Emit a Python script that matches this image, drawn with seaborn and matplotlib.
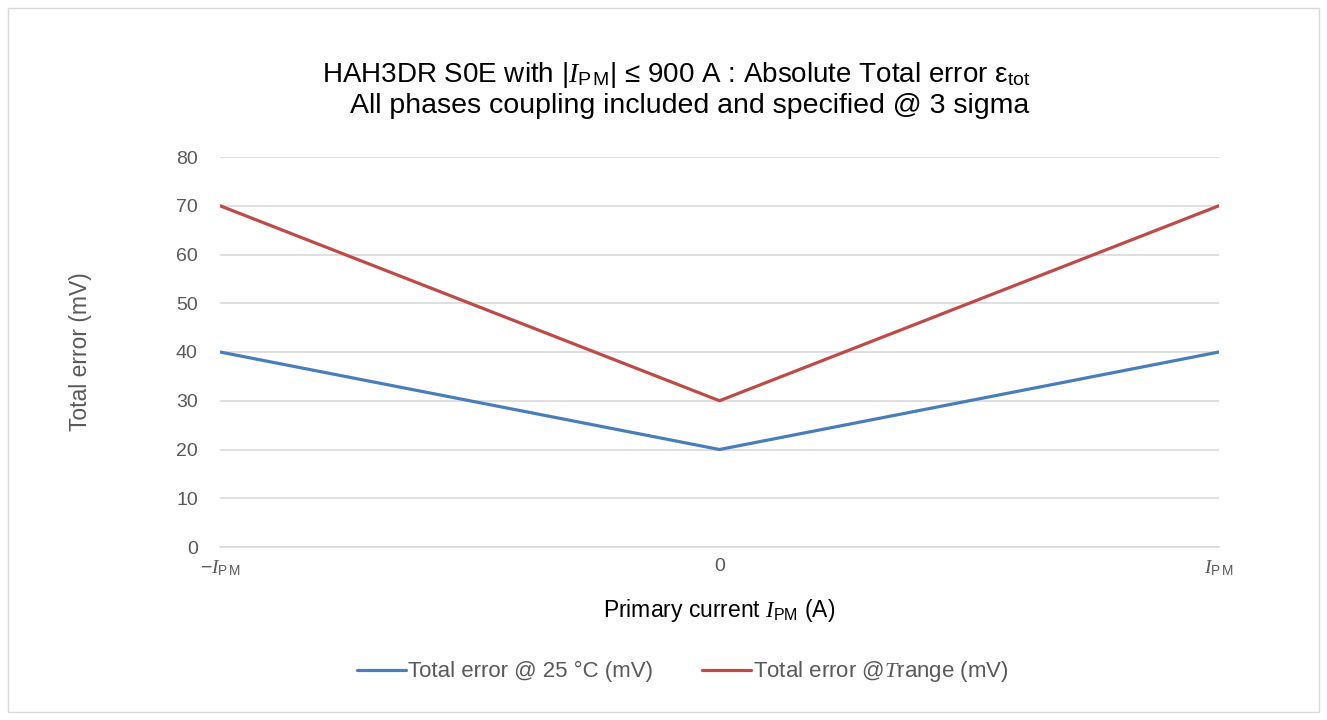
import numpy as np
import pandas as pd
import matplotlib
matplotlib.use("Agg")
import matplotlib.pyplot as plt
import seaborn as sns
from matplotlib.patches import Rectangle

# data
x_pos = [0, 1, 2]
x_labels = [r"$-I_{\mathrm{P\,M}}$", "0", r"$I_{\mathrm{P\,M}}$"]
err_25 = [40, 20, 40]
err_trange = [70, 30, 70]
series_names = [r"Total error @ 25 °C (mV)", r"Total error @$T$range (mV)"]
colors = ["#4a7ebb", "#be4b48"]

df = pd.DataFrame({
    "x": x_pos * 2,
    "err": err_25 + err_trange,
    "series": [series_names[0]] * 3 + [series_names[1]] * 3,
})

sns.set_theme(style="white")
plt.rcParams["font.family"] = ["Liberation Sans", "DejaVu Sans"]
plt.rcParams["mathtext.fontset"] = "custom"
plt.rcParams["mathtext.rm"] = "Liberation Sans"
plt.rcParams["mathtext.it"] = "Liberation Serif:italic"
plt.rcParams["mathtext.bf"] = "Liberation Sans:bold"

fig = plt.figure(figsize=(13.27, 7.2), dpi=100)
ax = fig.add_axes([220 / 1327, 1 - 547 / 720, 999 / 1327, 390 / 720])

sns.lineplot(data=df, x="x", y="err", hue="series", palette=colors,
             linewidth=2.3, ax=ax, legend=True)

ax.set_xlim(0, 2)
ax.set_ylim(0, 80)
ax.set_yticks(np.arange(0, 81, 10))
ax.set_xticks(x_pos)
ax.set_xticklabels(x_labels)
ax.grid(axis="y", color="#d9d9d9", linewidth=1.2)
for s in ["left", "right", "top"]:
    ax.spines[s].set_visible(False)
ax.spines["bottom"].set_color("#d9d9d9")
ax.spines["bottom"].set_linewidth(1.2)
ax.tick_params(axis="y", length=0, labelsize=14, colors="#595959", pad=16)
ax.tick_params(axis="x", length=0, labelsize=14, colors="#595959", pad=8)
ax.set_axisbelow(True)

ax.set_ylabel("Total error (mV)", fontsize=16.5, color="#595959", va="center")
ax.yaxis.set_label_coords(-0.140, 0.5)
ax.set_xlabel(r"Primary current $I_{\mathrm{PM}}$ (A)", fontsize=16.5, color="black", va="center")
ax.xaxis.set_label_coords(0.5, (547 - 610) / 390)

fig.text(676 / 1327, 1 - 75 / 720,
         r"HAH3DR S0E with |$I_{\mathrm{P\,M}}$| ≤ 900 A : Absolute Total error ε$_{\mathrm{tot}}$",
         ha="center", va="center", fontsize=20, color="black")
fig.text(690 / 1327, 1 - 106 / 720, "All phases coupling included and specified @ 3 sigma",
         ha="center", va="center", fontsize=20.5, color="black")

leg = ax.legend(loc="center", bbox_to_anchor=((683 - 220) / 999, (547 - 672) / 390), ncol=2,
                frameon=False, fontsize=16, handlelength=2.2, handletextpad=0.1,
                columnspacing=2.2)
for t in leg.get_texts():
    t.set_color("#595959")

fig.add_artist(Rectangle((8 / 1327, 8 / 720), 1311 / 1327, 704 / 720,
                         transform=fig.transFigure, fill=False,
                         edgecolor="#d9d9d9", linewidth=1))

fig.savefig("out.png", dpi=100)
